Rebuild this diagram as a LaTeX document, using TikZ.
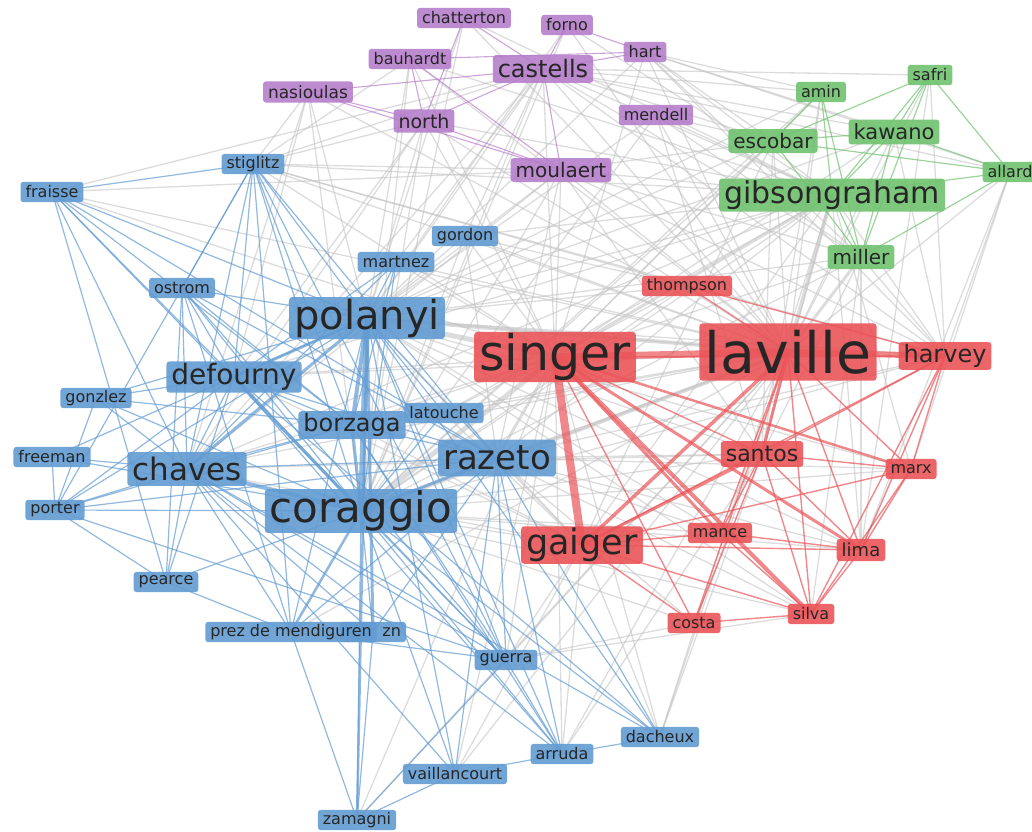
\documentclass[tikz,border=0pt]{standalone}
\usepackage{fontspec}
\setmainfont{DejaVu Sans}
\usepackage{tikz}
\usetikzlibrary{backgrounds}

\definecolor{bluN}{RGB}{98,155,210}
\definecolor{redN}{RGB}{234,84,88}
\definecolor{purN}{RGB}{182,126,202}
\definecolor{grnN}{RGB}{112,194,112}
\definecolor{edgeG}{RGB}{196,196,196}

\begin{document}
\begin{tikzpicture}[
    x=1pt, y=-1pt,
    nbox/.style  = {rounded corners=3pt, inner xsep=5pt, inner ysep=0pt,
                    text=black!85, fill opacity=0.9, text opacity=1},
    blu/.style   = {nbox, fill=bluN},
    rd/.style    = {nbox, fill=redN},
    pur/.style   = {nbox, fill=purN},
    grn/.style   = {nbox, fill=grnN},
    sz/.style    = {font=\fontsize{#1}{#1}\selectfont,
                    minimum height={0.9*#1pt+6pt}},
    gline/.style = {draw=edgeG, line width=1.3pt, opacity=0.6},
    bline/.style = {draw=bluN, line width=1.2pt, opacity=0.7},
    rline/.style = {draw=redN, line width=1.4pt, opacity=0.7},
    pline/.style = {draw=purN, line width=1.1pt, opacity=0.7},
    nline/.style = {draw=grnN, line width=1.2pt, opacity=0.7}
]
    \useasboundingbox (0,0) rectangle (1032,831);

    %-- purple cluster -------------------------------------------------------
    \node[pur, sz=16] (chatterton) at (464,18)  {chatterton};
    \node[pur, sz=16] (forno)      at (567,25)  {forno};
    \node[pur, sz=16] (hart)       at (645,52)  {hart};
    \node[pur, sz=16] (bauhardt)   at (410,59)  {bauhardt};
    \node[pur, sz=24] (castells)   at (543,69)  {castells};
    \node[pur, sz=17] (nasioulas)  at (308,92)  {nasioulas};
    \node[pur, sz=19] (north)      at (424,121) {north};
    \node[pur, sz=16] (mendell)    at (656,115) {mendell};
    \node[pur, sz=20] (moulaert)   at (561,170) {moulaert};

    %-- green cluster --------------------------------------------------------
    \node[grn, sz=16] (amin)    at (821,92)  {amin};
    \node[grn, sz=16] (safri)   at (930,75)  {safri};
    \node[grn, sz=20] (escobar) at (773,141) {escobar};
    \node[grn, sz=21] (kawano)  at (894,132) {kawano};
    \node[grn, sz=16] (allard)  at (1010,172) {allard};
    \node[grn, sz=30] (gibson)  at (832,195) {gibsongraham};
    \node[grn, sz=20] (miller)  at (861,257) {miller};

    %-- blue cluster ---------------------------------------------------------
    \node[blu, sz=16] (stiglitz) at (253,164) {stiglitz};
    \node[blu, sz=16] (fraisse)  at (52,192)  {fraisse};
    \node[blu, sz=16] (gordon)   at (465,236) {gordon};
    \node[blu, sz=16] (martnez)  at (396,262) {martnez};
    \node[blu, sz=16] (ostrom)   at (182,288) {ostrom};
    \node[blu, sz=40] (polanyi)  at (367,318) {polanyi};
    \node[blu, sz=28] (defourny) at (234,377) {defourny};
    \node[blu, sz=16] (gonzlez)  at (96,398)  {gonzlez};
    \node[blu, sz=24] (borzaga)  at (352,425) {borzaga};
    \node[blu, sz=16] (latouche) at (444,413) {latouche};
    \node[blu, sz=16] (freeman)  at (52,457)  {freeman};
    \node[blu, sz=31] (chaves)   at (187,469) {chaves};
    \node[blu, sz=16] (porter)   at (55,510)  {porter};
    \node[blu, sz=42] (coraggio) at (361,511) {coraggio};
    \node[blu, sz=34] (razeto)   at (497,458) {razeto};
    \node[blu, sz=16] (pearce)   at (166,582) {pearce};
    % zn sits half under prez de mendiguren
    \node[blu, sz=16, text width=56pt, align=right] (zn) at (373,632) {zn};
    \node[blu, sz=16] (prez)     at (291,632) {prez de mendiguren};
    \node[blu, sz=16] (guerra)   at (506,660) {guerra};
    \node[blu, sz=16] (vaillancourt) at (455,774) {vaillancourt};
    \node[blu, sz=16] (zamagni)  at (357,820) {zamagni};
    \node[blu, sz=16] (arruda)   at (562,754) {arruda};
    \node[blu, sz=16] (dacheux)  at (660,737) {dacheux};

    %-- red cluster ----------------------------------------------------------
    \node[rd, sz=16] (thompson) at (687,286) {thompson};
    \node[rd, sz=49] (singer)   at (555,357) {singer};
    \node[rd, sz=57] (laville)  at (788,352) {laville};
    \node[rd, sz=24] (harvey)   at (945,356) {harvey};
    \node[rd, sz=22] (santos)   at (762,454) {santos};
    \node[rd, sz=16] (marx)     at (911,469) {marx};
    \node[rd, sz=35] (gaiger)   at (582,545) {gaiger};
    \node[rd, sz=16] (mance)    at (720,533) {mance};
    \node[rd, sz=18] (lima)     at (861,550) {lima};
    \node[rd, sz=16] (costa)    at (694,623) {costa};
    \node[rd, sz=16] (silva)    at (811,614) {silva};

    \begin{pgfonlayer}{background}
    %-- grey links between clusters -----------------------------------------
    \foreach \a/\b in {
        laville/polanyi, laville/coraggio, laville/razeto, laville/borzaga,
        laville/defourny, laville/chaves, laville/martnez, laville/moulaert,
        laville/castells, laville/escobar, laville/kawano, laville/amin,
        laville/safri, laville/hart, laville/mendell, laville/north,
        laville/stiglitz, laville/latouche, laville/guerra, laville/arruda,
        laville/dacheux, laville/zamagni, laville/vaillancourt, laville/gordon,
        laville/fraisse, laville/bauhardt, laville/nasioulas, laville/chatterton,
        laville/forno, laville/allard, laville/prez,
        singer/chaves, singer/defourny, singer/borzaga, singer/latouche,
        singer/castells, singer/moulaert, singer/north, singer/escobar,
        singer/amin, singer/martnez, singer/gordon, singer/stiglitz,
        singer/fraisse, singer/dacheux, singer/arruda, singer/vaillancourt,
        singer/zamagni, singer/guerra, singer/kawano, singer/miller,
        singer/hart, singer/bauhardt,
        gaiger/coraggio, gaiger/razeto, gaiger/polanyi, gaiger/chaves,
        gaiger/guerra, gaiger/arruda, gaiger/dacheux, gaiger/vaillancourt,
        gaiger/latouche, gaiger/borzaga, gaiger/defourny, gaiger/gibson,
        gaiger/escobar,
        castells/polanyi, castells/coraggio, castells/gibson, castells/miller,
        castells/escobar, castells/kawano, castells/safri, castells/amin,
        castells/allard, castells/harvey, castells/chaves, castells/stiglitz,
        moulaert/polanyi, moulaert/coraggio, moulaert/gibson, moulaert/razeto,
        moulaert/chaves, moulaert/harvey, moulaert/santos, moulaert/miller,
        moulaert/escobar,
        hart/gibson, hart/kawano, hart/escobar, hart/miller, hart/amin,
        hart/harvey, hart/allard, hart/polanyi,
        mendell/gibson, mendell/escobar, mendell/polanyi, mendell/santos,
        mendell/miller, mendell/coraggio,
        north/polanyi, north/coraggio, north/chaves, north/defourny,
        north/gibson, north/stiglitz,
        bauhardt/polanyi, bauhardt/coraggio, bauhardt/stiglitz, bauhardt/gibson,
        nasioulas/stiglitz, nasioulas/polanyi, nasioulas/chaves,
        nasioulas/defourny, nasioulas/coraggio,
        chatterton/gibson, chatterton/polanyi, chatterton/coraggio,
        forno/coraggio, forno/polanyi, forno/gibson,
        gibson/polanyi, gibson/coraggio, gibson/razeto, gibson/chaves,
        gibson/harvey, gibson/santos, gibson/marx, gibson/lima, gibson/defourny,
        escobar/polanyi, escobar/coraggio, escobar/santos,
        miller/polanyi, miller/coraggio, miller/harvey, miller/silva,
        miller/lima, miller/santos,
        kawano/polanyi, kawano/harvey, allard/harvey, allard/marx, allard/lima,
        amin/polanyi, amin/coraggio, amin/santos, safri/lima, safri/harvey,
        harvey/polanyi, harvey/coraggio, harvey/razeto, harvey/stiglitz,
        santos/coraggio, santos/polanyi, santos/razeto, santos/chaves,
        mance/coraggio, mance/razeto, mance/polanyi,
        lima/coraggio, lima/polanyi, lima/razeto,
        silva/coraggio, silva/razeto, silva/polanyi, silva/guerra,
        costa/coraggio, costa/razeto, costa/guerra,
        marx/polanyi, marx/coraggio, marx/razeto,
        thompson/polanyi, thompson/coraggio, thompson/stiglitz,
        thompson/gordon, thompson/singer,
        gordon/coraggio, gordon/polanyi, gordon/razeto, gordon/gibson,
        gordon/castells, latouche/gibson, dacheux/santos, dacheux/gibson,
        arruda/santos, stiglitz/gibson, stiglitz/moulaert,
        fraisse/moulaert, fraisse/castells, martnez/castells}
        \draw[gline] (\a.center) -- (\b.center);

    \foreach \a/\b/\w in {
        singer/polanyi/5, singer/coraggio/5, laville/polanyi/4,
        laville/coraggio/4, singer/razeto/3, laville/gibson/4,
        singer/gibson/3, laville/miller/3}
        \draw[gline, line width=\w pt] (\a.center) -- (\b.center);

    %-- blue links ------------------------------------------------------------
    \foreach \a/\b in {
        stiglitz/fraisse, stiglitz/ostrom, stiglitz/polanyi, stiglitz/defourny,
        stiglitz/chaves, stiglitz/coraggio, stiglitz/borzaga, stiglitz/razeto,
        stiglitz/prez, stiglitz/guerra, stiglitz/porter,
        fraisse/polanyi, fraisse/defourny, fraisse/borzaga, fraisse/coraggio,
        fraisse/chaves, fraisse/razeto, fraisse/pearce,
        ostrom/coraggio, ostrom/chaves, ostrom/borzaga, ostrom/polanyi,
        ostrom/defourny, ostrom/razeto, ostrom/prez, ostrom/guerra, ostrom/pearce,
        gonzlez/chaves, gonzlez/coraggio, gonzlez/defourny, gonzlez/porter,
        gonzlez/polanyi, gonzlez/borzaga,
        freeman/porter, freeman/chaves, freeman/coraggio, freeman/polanyi,
        porter/chaves, porter/coraggio, porter/defourny, porter/polanyi,
        porter/pearce, porter/guerra, porter/razeto, porter/borzaga,
        pearce/chaves, pearce/coraggio, pearce/defourny, pearce/prez,
        polanyi/razeto, polanyi/latouche, polanyi/guerra, polanyi/prez,
        polanyi/arruda, polanyi/dacheux, polanyi/vaillancourt, polanyi/martnez,
        coraggio/latouche, coraggio/zn, coraggio/guerra, coraggio/arruda,
        coraggio/dacheux, coraggio/vaillancourt, coraggio/zamagni,
        martnez/coraggio, martnez/chaves, martnez/defourny, martnez/borzaga,
        defourny/chaves, defourny/borzaga, defourny/razeto, defourny/guerra,
        defourny/arruda, defourny/dacheux,
        chaves/razeto, chaves/borzaga, chaves/guerra, chaves/arruda,
        chaves/dacheux, chaves/prez, chaves/zn, chaves/vaillancourt,
        razeto/guerra, razeto/arruda, razeto/dacheux, razeto/zn, razeto/prez,
        razeto/vaillancourt, borzaga/razeto, borzaga/guerra, borzaga/arruda,
        zamagni/zn, zamagni/prez, zamagni/vaillancourt, zamagni/guerra,
        arruda/dacheux, arruda/vaillancourt, arruda/guerra, prez/guerra}
        \draw[bline] (\a.center) -- (\b.center);

    \foreach \a/\b/\w in {
        polanyi/coraggio/6, coraggio/chaves/4, polanyi/borzaga/4,
        polanyi/chaves/3, defourny/coraggio/3, coraggio/razeto/3,
        polanyi/defourny/3, borzaga/coraggio/3, coraggio/prez/2.5,
        polanyi/zn/3, polanyi/zamagni/2.5}
        \draw[bline, line width=\w pt] (\a.center) -- (\b.center);

    %-- red links -------------------------------------------------------------
    \foreach \a/\b in {
        singer/costa, laville/lima, laville/silva, laville/marx, laville/costa,
        laville/mance, harvey/gaiger, harvey/lima, harvey/silva, harvey/marx,
        harvey/santos, santos/lima, santos/silva, santos/marx, gaiger/mance,
        gaiger/lima, gaiger/silva, gaiger/marx, gaiger/costa, mance/silva,
        mance/lima, costa/silva, lima/silva, marx/lima, marx/silva,
        thompson/laville, thompson/harvey, singer/harvey, santos/costa,
        mance/santos, singer/santos}
        \draw[rline] (\a.center) -- (\b.center);

    \foreach \a/\b/\w in {
        singer/laville/7, laville/harvey/6, singer/gaiger/8,
        laville/gaiger/3.5, singer/silva/4, singer/lima/3, singer/mance/3,
        singer/marx/2.5, laville/santos/3, santos/gaiger/3}
        \draw[rline, line width=\w pt] (\a.center) -- (\b.center);

    %-- purple links ----------------------------------------------------------
    \foreach \a/\b in {
        chatterton/north, chatterton/castells, forno/hart, forno/castells,
        castells/hart, bauhardt/hart, bauhardt/north, bauhardt/moulaert,
        nasioulas/castells, nasioulas/north, north/moulaert, north/castells,
        castells/moulaert, nasioulas/moulaert}
        \draw[pline] (\a.center) -- (\b.center);

    %-- green links -----------------------------------------------------------
    \foreach \a/\b in {
        safri/escobar, safri/kawano, safri/gibson, safri/miller, safri/allard,
        amin/escobar, amin/gibson, amin/miller, kawano/allard, escobar/allard,
        gibson/allard, miller/allard, escobar/miller, kawano/miller,
        kawano/gibson, escobar/kawano, gibson/miller}
        \draw[nline] (\a.center) -- (\b.center);
    \end{pgfonlayer}
\end{tikzpicture}
\end{document}
